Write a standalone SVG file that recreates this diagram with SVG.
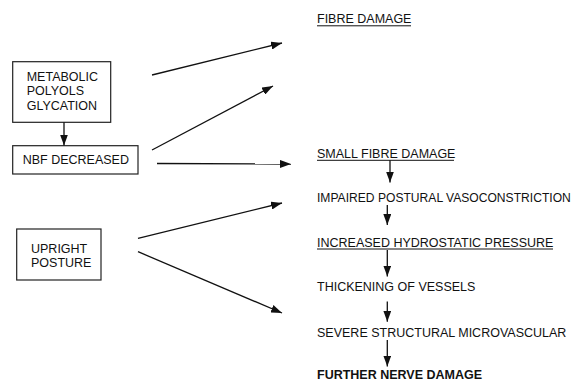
<svg xmlns="http://www.w3.org/2000/svg" width="577" height="381" viewBox="0 0 577 381">
<style>
text{font-family:"Liberation Sans",Arial,sans-serif;font-size:12.5px;fill:#111}
.b{font-weight:bold}
.s{font-size:12.1px}
.box{fill:#fff;stroke:#222;stroke-width:1.2}
.c line{stroke:#111;stroke-width:1.3;marker-end:url(#ah)}
.u{stroke:#111;stroke-width:1}
</style>
<defs>
<marker id="ah" markerUnits="userSpaceOnUse" markerWidth="12" markerHeight="8" refX="11" refY="4" orient="auto">
<path d="M0,0 L11,4 L0,8 Z" fill="#111"/>
</marker>
</defs>
<rect width="577" height="381" fill="#fff"/>
<g id="metabolic"><rect class="box" x="12.7" y="61.7" width="98" height="60.6"/><text x="26.7" y="80.7">METABOLIC</text><text x="26.7" y="95">POLYOLS</text><text x="26.7" y="109.8">GLYCATION</text></g>
<g id="nbf"><rect class="box" x="12.7" y="145.7" width="125.3" height="28.3"/><text x="22.7" y="164.3">NBF DECREASED</text></g>
<g id="upright"><rect class="box" x="16.7" y="229" width="84.3" height="51"/><text x="31" y="252.7">UPRIGHT</text><text x="31" y="266.7">POSTURE</text></g>
<g id="fibre"><text x="317" y="23.3">FIBRE DAMAGE</text><line class="u" x1="317" y1="25.8" x2="411" y2="25.8"/></g>
<g id="small"><text x="317" y="157.8">SMALL FIBRE DAMAGE</text><line class="u" x1="317" y1="160.3" x2="454" y2="160.3"/></g>
<g id="impaired"><text class="s" x="317" y="202">IMPAIRED POSTURAL VASOCONSTRICTION</text></g>
<g id="increased"><text x="317" y="246.5">INCREASED HYDROSTATIC PRESSURE</text><line class="u" x1="317" y1="249" x2="553" y2="249"/></g>
<g id="thickening"><text x="317" y="290.7">THICKENING OF VESSELS</text></g>
<g id="severe"><text x="317" y="336.5">SEVERE STRUCTURAL MICROVASCULAR</text></g>
<g id="further"><text class="b" x="317" y="378.5">FURTHER NERVE DAMAGE</text></g>
<g class="c" id="connectors">
<line x1="64" y1="122.3" x2="64" y2="145.5"/>
<line x1="152" y1="75" x2="282" y2="43"/>
<line x1="152" y1="150" x2="273" y2="86"/>
<line x1="157" y1="163.5" x2="291" y2="164"/>
<line x1="138" y1="238.3" x2="282" y2="203"/>
<line x1="138" y1="251.7" x2="282" y2="313"/>
<line x1="390" y1="160.3" x2="390" y2="182.5"/>
<line x1="387.3" y1="205" x2="387.3" y2="225"/>
<line x1="387.3" y1="250" x2="387.3" y2="276.5"/>
<line x1="387.3" y1="301.5" x2="387.3" y2="321.7"/>
<line x1="387.3" y1="340" x2="387.3" y2="366.5"/>
</g>
</svg>
